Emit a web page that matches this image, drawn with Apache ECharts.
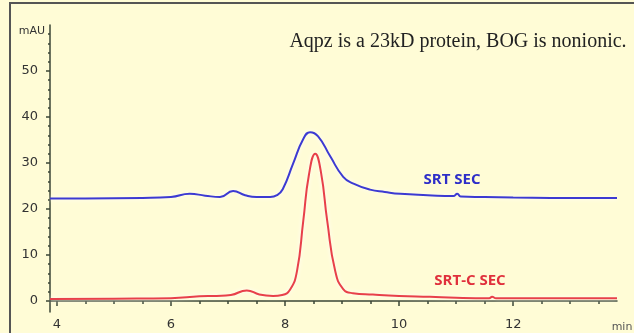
<!DOCTYPE html>
<html>
<head>
<meta charset="utf-8">
<script src="https://cdn.jsdelivr.net/npm/echarts@6/dist/echarts.min.js"></script>
<style>
  html, body { margin: 0; padding: 0; background: #fffcd6; }
  #chart { width: 634px; height: 333px; }
</style>
</head>
<body>
<div id="chart"></div>
<script>
// Retention times (min) and absorbance (mAU) for the two SEC traces
const srtTimes = [3.88, 4.5, 5.5, 6.0, 6.33, 6.6, 6.86, 7.09, 7.3, 7.5, 7.74, 7.86, 7.96, 8.14, 8.32, 8.44, 8.58, 8.79, 9.02, 9.2, 9.49, 9.75, 10.02, 10.5, 10.95, 11.02, 11.08, 11.5, 12.0, 13.0, 13.82];
const srtValues = [22.3, 22.3, 22.4, 22.6, 23.3, 22.9, 22.6, 23.9, 23.0, 22.6, 22.6, 23.0, 24.3, 29.8, 35.2, 36.7, 35.8, 31.5, 27.0, 25.5, 24.2, 23.7, 23.3, 23.0, 22.8, 23.3, 22.7, 22.6, 22.5, 22.4, 22.4];

const srtcTimes = [3.88, 5.0, 6.0, 6.5, 6.8, 7.05, 7.33, 7.55, 7.79, 7.95, 8.09, 8.21, 8.32, 8.42, 8.53, 8.63, 8.74, 8.88, 9.02, 9.19, 9.54, 10.0, 10.54, 11.0, 11.58, 11.63, 11.7, 12.5, 13.82];
const srtcValues = [0.4, 0.5, 0.6, 1.0, 1.1, 1.3, 2.3, 1.4, 1.1, 1.3, 2.5, 6.5, 17.4, 27.5, 32.0, 28.0, 17.4, 6.5, 2.6, 1.7, 1.4, 1.1, 0.9, 0.7, 0.6, 0.9, 0.6, 0.6, 0.6];

const yTickValues = [0, 10, 20, 30, 40, 50];
const yMinorValues = [2, 4, 6, 8, 12, 14, 16, 18, 22, 24, 26, 28, 32, 34, 36, 38, 42, 44, 46, 48, 52, 54, 56, 58];
const xTickValues = [4, 6, 8, 10, 12];
const xMinorValues = [4.5, 5, 5.5, 6.5, 7, 7.5, 8.5, 9, 9.5, 10.5, 11, 11.5, 12.5, 13, 13.5];

const noteText = 'Aqpz is a 23kD protein, BOG is nonionic.';
const srtName = 'SRT SEC';
const srtcName = 'SRT-C SEC';

const toPairs = (xs, ys) => xs.map((x, i) => [x, ys[i]]);

const axisColor = '#3b4636';
const labelFont = { color: '#333', fontFamily: 'DejaVu Sans', fontSize: 13 };

const chart = echarts.init(document.getElementById('chart'));
chart.setOption({
  backgroundColor: '#fffcd6',
  animation: false,
  grid: { left: 50, right: 17, top: 25, bottom: 21 },
  xAxis: [
    {
      type: 'value', min: 3.88, max: 13.82,
      axisLine: { lineStyle: { color: axisColor, width: 1.5 } },
      axisTick: { customValues: xTickValues, length: 5, lineStyle: { color: axisColor, width: 1.5 } },
      axisLabel: Object.assign({ customValues: xTickValues, margin: 6 }, labelFont),
      splitLine: { show: false }
    },
    {
      type: 'value', min: 3.88, max: 13.82, position: 'bottom',
      axisLine: { show: false },
      axisTick: { customValues: xMinorValues, length: 3, lineStyle: { color: axisColor, width: 1.5 } },
      axisLabel: { show: false },
      splitLine: { show: false }
    }
  ],
  yAxis: [
    {
      type: 'value', min: -2.4, max: 60,
      axisLine: { show: true, lineStyle: { color: axisColor, width: 1.5 } },
      axisTick: { show: true, customValues: yTickValues, length: 4, lineStyle: { color: axisColor, width: 1.5 } },
      axisLabel: Object.assign({ customValues: yTickValues, margin: 12 }, labelFont),
      splitLine: { show: false }
    },
    {
      type: 'value', min: -2.4, max: 60, position: 'left',
      axisLine: { show: false },
      axisTick: { show: true, customValues: yMinorValues, length: 2, lineStyle: { color: axisColor, width: 1.5 } },
      axisLabel: { show: false },
      splitLine: { show: false }
    }
  ],
  series: [
    {
      name: srtName, type: 'line', data: toPairs(srtTimes, srtValues),
      smooth: 0.5, showSymbol: false,
      lineStyle: { color: '#3c3ad2', width: 2, shadowColor: 'rgba(255,255,255,0.95)', shadowBlur: 4 },
      z: 3
    },
    {
      name: srtcName, type: 'line', data: toPairs(srtcTimes, srtcValues),
      smooth: 0.5, showSymbol: false,
      lineStyle: { color: '#e8404a', width: 2, shadowColor: 'rgba(255,255,255,0.95)', shadowBlur: 4 },
      z: 4
    }
  ],
  graphic: [
    { type: 'rect', shape: { x: 10, y: 3, width: 700, height: 400 }, style: { fill: 'none', stroke: '#555', lineWidth: 2 }, silent: true },
    { type: 'text', x: 458, y: 42, style: { text: noteText, font: '20px "Liberation Serif"', fill: '#222', align: 'center', verticalAlign: 'middle' } },
    { type: 'text', x: 452, y: 180, style: { text: srtName, font: 'bold 15px "Open Sans"', fill: '#2e2ec8', align: 'center', verticalAlign: 'middle' } },
    { type: 'text', x: 470, y: 281, style: { text: srtcName, font: 'bold 15px "Open Sans"', fill: '#e0303c', align: 'center', verticalAlign: 'middle' } },
    { type: 'text', x: 32, y: 31, style: { text: 'mAU', font: '11px "DejaVu Sans"', fill: '#333', align: 'center', verticalAlign: 'middle' } },
    { type: 'text', x: 622, y: 327, style: { text: 'min', font: '11px "DejaVu Sans"', fill: '#555', align: 'center', verticalAlign: 'middle' } }
  ]
});
</script>
</body>
</html>
